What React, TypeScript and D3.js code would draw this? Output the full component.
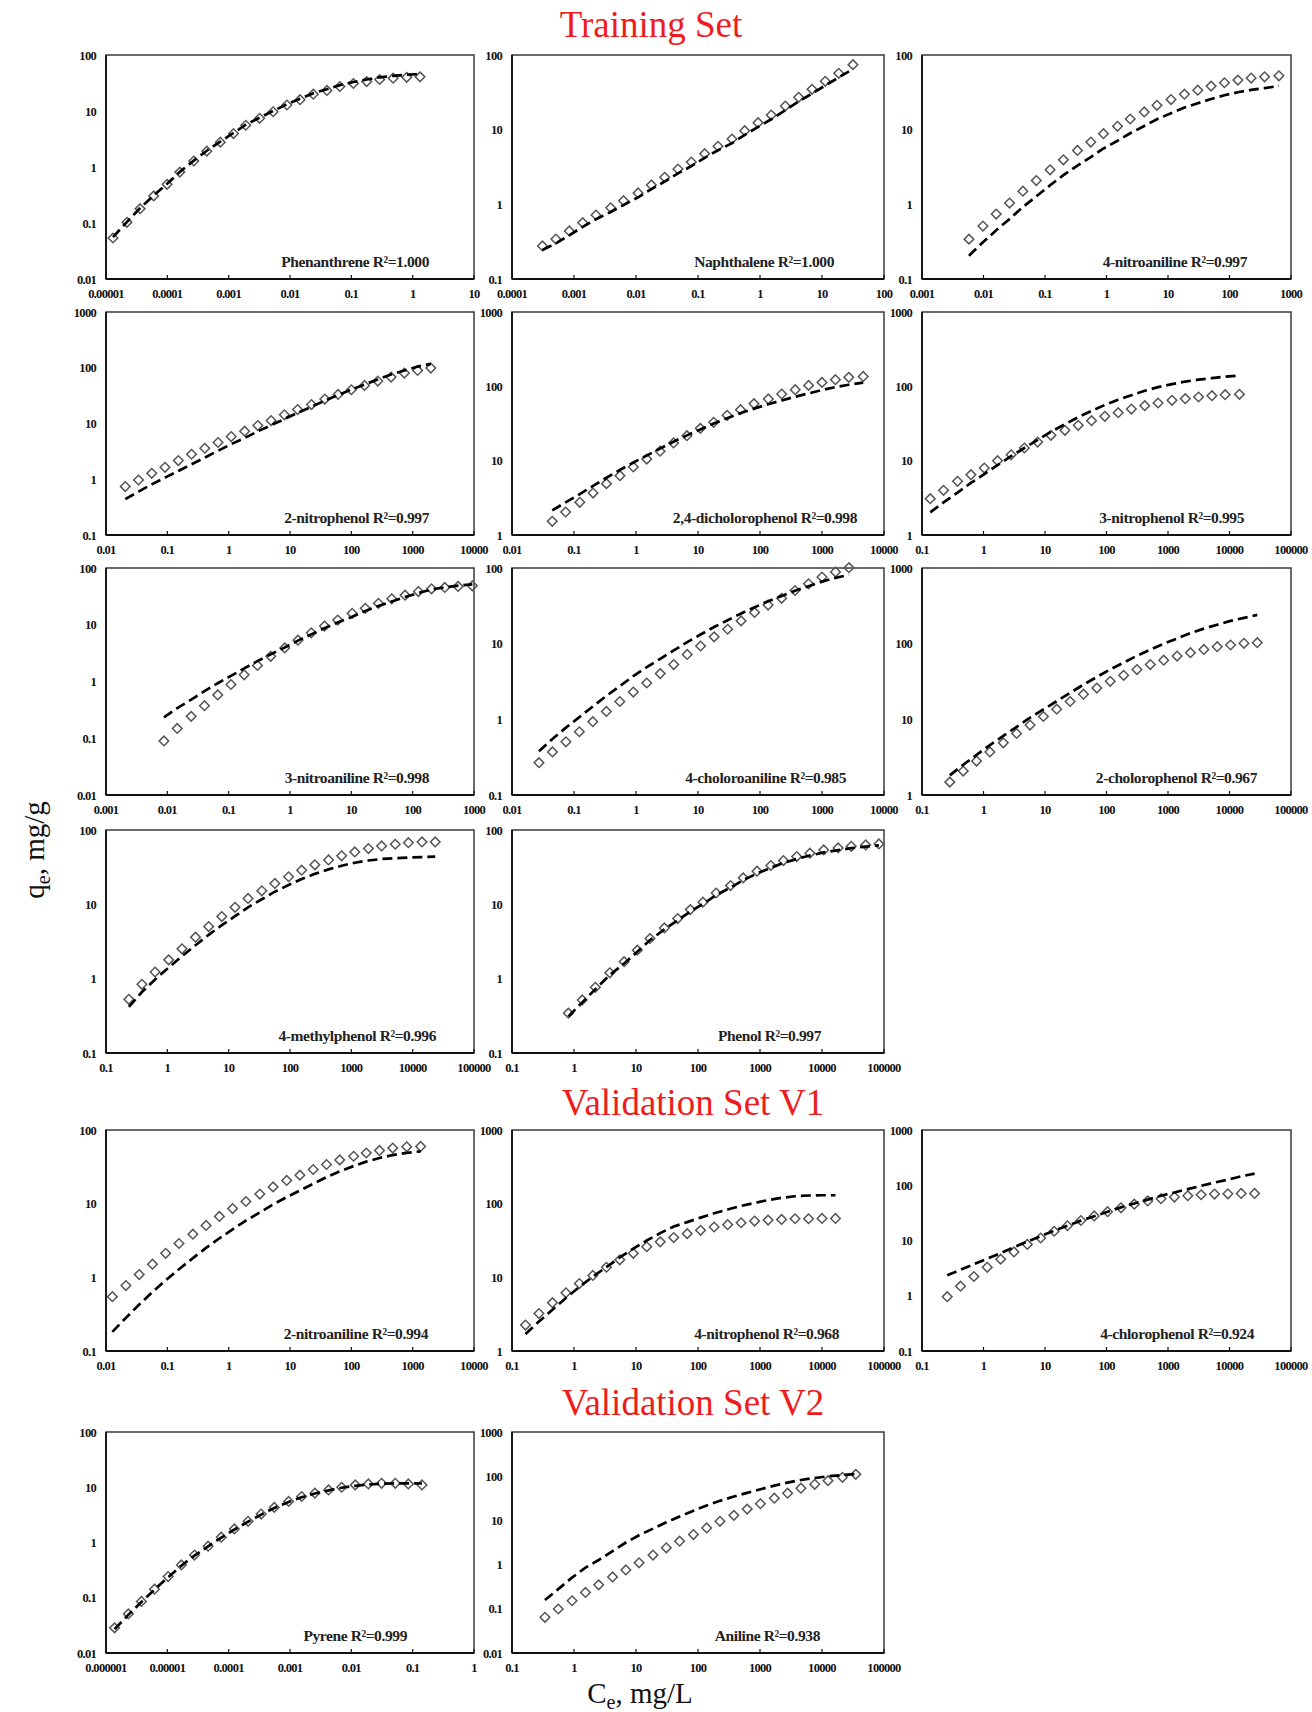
import React from "react"
import * as d3 from "d3"

// Langmuir-type adsorption isotherms: observed qe (diamonds) and model fit (dashed)

const COMPOUNDS = [
  "Phenanthrene", "Naphthalene", "4-nitroaniline",
  "2-nitrophenol", "2,4-dicholorophenol", "3-nitrophenol",
  "3-nitroaniline", "4-choloroaniline", "2-cholorophenol",
  "4-methylphenol", "Phenol",
  "2-nitroaniline", "4-nitrophenol", "4-chlorophenol",
  "Pyrene", "Aniline",
]
const R2 = [
  "1.000", "1.000", "0.997",
  "0.997", "0.998", "0.995",
  "0.998", "0.985", "0.967",
  "0.996", "0.997",
  "0.994", "0.968", "0.924",
  "0.999", "0.938",
]

const SET_TITLES = ["Training Set", "Validation Set V1", "Validation Set V2"]

// axis ranges (mg/L, mg/g)
const X_RANGE = [
  [1e-5, 10], [1e-4, 100], [1e-3, 1000],
  [0.01, 10000], [0.01, 10000], [0.1, 1e5],
  [1e-3, 1000], [0.01, 10000], [0.1, 1e5],
  [0.1, 1e5], [0.1, 1e5],
  [0.01, 10000], [0.1, 1e5], [0.1, 1e5],
  [1e-6, 1], [0.1, 1e5],
]
const Y_RANGE = [
  [0.01, 100], [0.1, 100], [0.1, 100],
  [0.1, 1000], [1, 1000], [1, 1000],
  [0.01, 100], [0.1, 100], [1, 1000],
  [0.1, 100], [0.1, 100],
  [0.1, 100], [1, 1000], [0.1, 1000],
  [0.01, 100], [0.01, 1000],
]

// --- Training set ---
const CE_PHENANTHRENE = [1.3e-5, 2.2e-5, 3.6e-5, 6.0e-5, 9.9e-5, 1.6e-4, 2.7e-4, 4.4e-4, 7.3e-4, 1.2e-3, 1.9e-3, 3.2e-3, 5.3e-3, 8.9e-3, 0.0146, 0.024, 0.040, 0.065, 0.108, 0.178, 0.29, 0.48, 0.80, 1.32]
const QE_PHENANTHRENE = [0.054, 0.103, 0.18, 0.305, 0.49, 0.81, 1.28, 1.92, 2.78, 3.96, 5.57, 7.4, 9.7, 12.8, 15.9, 20, 23.3, 27.4, 31, 33.6, 36.5, 38.5, 40, 40.7]
const FIT_PHENANTHRENE = [0.056, 0.105, 0.185, 0.31, 0.50, 0.82, 1.3, 1.95, 2.85, 4.05, 5.7, 7.6, 10.0, 13.2, 16.5, 20.8, 24.5, 29.0, 33.0, 36.5, 40.0, 42.5, 44.5, 45.5]

const CE_NAPHTHALENE = [3.1e-4, 5.1e-4, 8.4e-4, 1.38e-3, 2.26e-3, 3.9e-3, 6.3e-3, 0.0108, 0.0177, 0.029, 0.0475, 0.078, 0.128, 0.21, 0.353, 0.567, 0.93, 1.52, 2.56, 4.2, 6.9, 11.3, 18.6, 31.6]
const QE_NAPHTHALENE = [0.277, 0.343, 0.44, 0.568, 0.72, 0.90, 1.12, 1.42, 1.82, 2.3, 2.97, 3.69, 4.77, 6.0, 7.5, 9.7, 12.4, 15.7, 20.7, 27.1, 34.7, 44.4, 56.8, 74.3]
const FIT_NAPHTHALENE = [0.245, 0.30, 0.385, 0.50, 0.63, 0.79, 0.98, 1.24, 1.6, 2.02, 2.6, 3.25, 4.2, 5.3, 6.6, 8.5, 10.9, 13.8, 18.2, 23.8, 30.5, 39.0, 50.0, 65.0]

const CE_4NITROANILINE = [5.8e-3, 9.8e-3, 0.0161, 0.0265, 0.0437, 0.0722, 0.121, 0.199, 0.337, 0.556, 0.893, 1.51, 2.43, 4.11, 6.62, 11.2, 18.5, 30.5, 50.2, 82.8, 137, 225, 372, 637]
const QE_4NITROANILINE = [0.342, 0.512, 0.741, 1.04, 1.50, 2.08, 2.9, 3.95, 5.27, 6.82, 8.83, 11.1, 13.9, 17.3, 21.2, 25.3, 29.9, 33.8, 38.3, 42.5, 46.1, 49.1, 51.1, 52.7]
const FIT_4NITROANILINE = [0.205, 0.31, 0.45, 0.635, 0.92, 1.28, 1.80, 2.46, 3.31, 4.3, 5.6, 7.1, 8.95, 11.2, 13.8, 16.6, 19.8, 22.6, 25.8, 28.9, 31.7, 34.1, 36.0, 38.5]

const CE_2NITROPHENOL = [0.0206, 0.0339, 0.0557, 0.0916, 0.151, 0.248, 0.408, 0.671, 1.10, 1.82, 2.99, 4.92, 8.09, 13.3, 22.4, 37, 60.8, 100, 164, 270, 445, 732, 1205, 1980]
const QE_2NITROPHENOL = [0.738, 0.97, 1.28, 1.64, 2.16, 2.81, 3.6, 4.56, 5.84, 7.28, 9.2, 11.3, 14.3, 17.8, 21.9, 27.4, 33.2, 40.3, 48.2, 57.6, 67.9, 80.2, 89.5, 98.6]
const FIT_2NITROPHENOL = [0.44, 0.60, 0.81, 1.07, 1.41, 1.86, 2.45, 3.24, 4.27, 5.5, 7.24, 9.33, 12.0, 15.5, 20.0, 25.7, 32.4, 40.7, 50.1, 61.7, 75.9, 89.1, 105, 117]

const CE_24DCP = [0.0446, 0.0733, 0.124, 0.203, 0.334, 0.551, 0.906, 1.49, 2.45, 4.03, 6.63, 10.9, 17.9, 29.5, 48.5, 80, 136, 224, 370, 608, 1000, 1645, 2705, 4620]
const QE_24DCP = [1.53, 2.04, 2.75, 3.67, 4.91, 6.28, 8.22, 10.5, 13.4, 17.3, 21.7, 27.2, 32.8, 40.7, 48.5, 58.5, 67.6, 78.9, 90.2, 103, 113, 123, 132, 136]
const FIT_24DCP = [2.14, 2.75, 3.55, 4.57, 5.89, 7.5, 9.44, 11.7, 14.6, 18.0, 21.9, 26.3, 31.6, 37.2, 43.7, 50.1, 57.5, 64.6, 72.4, 80.4, 89.1, 97.7, 105, 112]

const CE_3NITROPHENOL = [0.136, 0.224, 0.378, 0.624, 1.03, 1.69, 2.81, 4.62, 7.6, 12.5, 21.1, 34.7, 57.1, 94, 155, 254, 419, 689, 1161, 1910, 3140, 5175, 8510, 14500]
const QE_3NITROPHENOL = [3.08, 3.99, 5.27, 6.48, 7.96, 10, 12.0, 14.8, 17.8, 21.9, 25.6, 29.9, 34.5, 39.5, 44.2, 49.5, 54.9, 59.7, 64.8, 68.2, 71.9, 74.9, 77.3, 78]
const FIT_3NITROPHENOL = [2.02, 2.75, 3.72, 5.01, 6.61, 8.71, 11.5, 14.8, 19.1, 24.5, 30.9, 38.5, 46.8, 56.2, 66.1, 75.9, 87.1, 97.7, 107, 116, 123, 129, 135, 139]

const CE_3NITROANILINE = [8.8e-3, 0.0145, 0.0245, 0.0403, 0.0664, 0.109, 0.179, 0.295, 0.485, 0.82, 1.35, 2.22, 3.65, 6.0, 10.3, 16.9, 27.7, 45.6, 75.2, 124, 203, 334, 550, 940]
const QE_3NITROANILINE = [0.0897, 0.149, 0.243, 0.375, 0.579, 0.885, 1.31, 1.92, 2.78, 3.91, 5.35, 7.21, 9.47, 12.1, 15.9, 19.5, 23.9, 28.6, 33.2, 38.5, 43, 45.4, 47.3, 48.5]
const FIT_3NITROANILINE = [0.234, 0.339, 0.479, 0.676, 0.933, 1.26, 1.70, 2.29, 3.02, 3.98, 5.25, 6.76, 8.71, 11.0, 13.8, 17.4, 21.4, 25.7, 30.9, 36.3, 41.7, 45.7, 49.0, 51.3]

const CE_4CHLOROANILINE = [0.0272, 0.0449, 0.0741, 0.122, 0.201, 0.333, 0.548, 0.905, 1.49, 2.46, 4.06, 6.7, 11.0, 18.2, 30.1, 49.6, 81.8, 135, 223, 367, 606, 1000, 1650, 2720]
const QE_4CHLOROANILINE = [0.267, 0.371, 0.504, 0.685, 0.931, 1.27, 1.72, 2.29, 3.02, 4.02, 5.3, 7.21, 9.31, 12.3, 15.5, 20.0, 25.9, 32.4, 39.8, 50.4, 61.8, 75.9, 88.5, 101]
const FIT_4CHLOROANILINE = [0.38, 0.55, 0.776, 1.07, 1.48, 2.04, 2.75, 3.72, 4.9, 6.31, 8.13, 10.5, 13.2, 16.6, 20.4, 25.1, 30.2, 36.3, 42.7, 50.1, 57.5, 66.1, 74.1, 81.3]

const CE_2CHLOROPHENOL = [0.283, 0.468, 0.771, 1.27, 2.1, 3.46, 5.71, 9.42, 15.5, 25.6, 42.3, 69.7, 115, 190, 313, 516, 851, 1406, 2317, 3828, 6310, 10400, 17180, 28300]
const QE_2CHLOROPHENOL = [1.48, 2.07, 2.81, 3.71, 4.89, 6.5, 8.4, 10.9, 13.6, 17.2, 21.5, 25.9, 31.8, 38.2, 45.5, 53, 60.5, 68.5, 75.9, 84, 91.2, 96, 101, 103]
const FIT_2CHLOROPHENOL = [1.82, 2.51, 3.39, 4.57, 6.03, 7.94, 10.5, 13.5, 17.4, 22.4, 28.8, 36.3, 45.7, 56.2, 69.2, 83.2, 100, 117, 138, 158, 178, 200, 219, 240]

const CE_4METHYLPHENOL = [0.236, 0.385, 0.631, 1.05, 1.73, 2.88, 4.72, 7.73, 12.7, 20.7, 34.7, 56.6, 94.8, 155, 254, 425, 695, 1138, 1900, 3112, 5200, 8510, 14200, 23300]
const QE_4METHYLPHENOL = [0.528, 0.84, 1.23, 1.79, 2.52, 3.61, 5.02, 6.84, 9.12, 12.0, 15.2, 19.1, 23.5, 28.8, 34, 39.6, 44.9, 50.7, 56.2, 61.1, 64.3, 67.6, 69, 69]
const FIT_4METHYLPHENOL = [0.417, 0.661, 0.977, 1.41, 2.0, 2.82, 3.89, 5.25, 6.92, 9.12, 11.7, 14.8, 18.2, 21.9, 25.7, 29.5, 33.1, 36.3, 38.9, 40.7, 41.7, 42.7, 43.2, 43.7]

const CE_PHENOL = [0.811, 1.36, 2.21, 3.78, 6.44, 10.5, 16.8, 28.7, 47, 75.2, 120, 196, 335, 536, 895, 1493, 2390, 3908, 6380, 10660, 18200, 29700, 50700, 82800]
const QE_PHENOL = [0.343, 0.518, 0.766, 1.2, 1.69, 2.42, 3.47, 4.82, 6.43, 8.49, 10.7, 14.2, 17.9, 22.7, 27.9, 33.3, 38.8, 43.9, 48.7, 54, 57.4, 60.4, 63, 64.9]
const FIT_PHENOL = [0.31, 0.48, 0.72, 1.12, 1.6, 2.3, 3.3, 4.6, 6.1, 8.0, 10.1, 13.3, 16.8, 21.2, 26.0, 31.0, 36.0, 40.8, 45.4, 50.0, 53.7, 57.0, 59.8, 62.2]

// --- Validation set V1 ---
const CE_2NITROANILINE = [0.0127, 0.0211, 0.0348, 0.0572, 0.094, 0.155, 0.261, 0.428, 0.706, 1.16, 1.91, 3.22, 5.3, 8.83, 14.5, 23.9, 39.4, 64.7, 109, 175, 288, 474, 800, 1349]
const QE_2NITROANILINE = [0.546, 0.773, 1.09, 1.51, 2.12, 2.88, 3.85, 5.07, 6.7, 8.57, 10.7, 13.5, 16.9, 20.7, 24.4, 29.1, 34, 39.3, 44, 48.7, 52.8, 56.8, 59.2, 59.8]
const FIT_2NITROANILINE = [0.182, 0.282, 0.427, 0.631, 0.912, 1.29, 1.82, 2.51, 3.39, 4.47, 5.89, 7.59, 9.77, 12.3, 15.1, 18.6, 22.9, 27.5, 32.4, 37.2, 41.7, 45.7, 49.0, 51.3]

const CE_4NITROPHENOL = [0.165, 0.272, 0.449, 0.741, 1.22, 2.01, 3.33, 5.48, 9.05, 14.9, 24.6, 40.6, 67, 110, 182, 301, 496, 818, 1350, 2230, 3670, 6070, 10000, 16500]
const QE_4NITROPHENOL = [2.25, 3.23, 4.53, 6.17, 8.22, 10.6, 13.7, 17.3, 21.2, 26, 30.3, 34.7, 39.2, 43.5, 48.2, 51.8, 55.1, 58, 59.8, 61.1, 62.4, 62.4, 63, 63]
const FIT_4NITROPHENOL = [1.70, 2.51, 3.63, 5.25, 7.41, 10.2, 13.8, 18.6, 24.5, 31.6, 39.8, 49.0, 56.2, 64.6, 74.1, 83.2, 93.3, 102, 112, 120, 126, 129, 130, 130]

const CE_4CHLOROPHENOL = [0.257, 0.423, 0.697, 1.15, 1.9, 3.13, 5.16, 8.51, 14.1, 23.2, 38.3, 63.1, 104, 172, 283, 468, 771, 1271, 2099, 3460, 5710, 9420, 15500, 25600]
const QE_4CHLOROPHENOL = [0.96, 1.49, 2.23, 3.27, 4.6, 6.21, 8.49, 11.1, 14.7, 18.5, 23, 27.8, 33.2, 39.1, 45.4, 52, 57.2, 61.2, 64.7, 67.3, 69.2, 70.1, 71.1, 71.1]
const FIT_4CHLOROPHENOL = [2.34, 2.95, 3.72, 4.68, 5.89, 7.59, 9.55, 12.0, 15.1, 18.6, 22.9, 27.5, 33.1, 39.8, 46.8, 55.0, 64.6, 74.1, 85.1, 97.7, 112, 126, 145, 162]

// --- Validation set V2 ---
const CE_PYRENE = [1.38e-6, 2.31e-6, 3.78e-6, 6.18e-6, 1.03e-5, 1.69e-5, 2.77e-5, 4.62e-5, 7.57e-5, 1.24e-4, 2.07e-4, 3.39e-4, 5.55e-4, 9.48e-4, 1.55e-3, 2.54e-3, 4.25e-3, 6.95e-3, 0.0116, 0.019, 0.0311, 0.052, 0.0851, 0.142]
const QE_PYRENE = [0.0285, 0.0509, 0.0859, 0.143, 0.242, 0.392, 0.592, 0.859, 1.25, 1.76, 2.42, 3.27, 4.32, 5.53, 6.8, 7.8, 8.95, 10, 11, 11.5, 11.8, 11.8, 11.5, 11.0]
const FIT_PYRENE = [0.027, 0.049, 0.084, 0.14, 0.235, 0.38, 0.58, 0.85, 1.22, 1.72, 2.38, 3.2, 4.2, 5.4, 6.6, 7.7, 8.8, 9.8, 10.6, 11.2, 11.6, 11.8, 11.8, 11.7]

const CE_ANILINE = [0.34, 0.557, 0.931, 1.53, 2.5, 4.19, 6.86, 11.2, 18.8, 30.8, 50.5, 84.4, 138, 226, 379, 621, 1016, 1702, 2786, 4570, 7640, 12500, 21400, 35100]
const QE_ANILINE = [0.0643, 0.099, 0.152, 0.234, 0.348, 0.527, 0.757, 1.1, 1.64, 2.4, 3.39, 4.79, 6.75, 9.53, 13, 18, 23.8, 31.8, 41.2, 53.5, 65.6, 79.4, 94.4, 110]
const FIT_ANILINE = [0.158, 0.279, 0.509, 0.854, 1.27, 2.02, 3.16, 4.62, 6.52, 9.05, 12.3, 16.5, 21.8, 27.7, 34.7, 42, 50.7, 61.2, 71.6, 82.2, 91.2, 99.4, 106, 112]

const CE = [
  CE_PHENANTHRENE, CE_NAPHTHALENE, CE_4NITROANILINE, CE_2NITROPHENOL, CE_24DCP, CE_3NITROPHENOL,
  CE_3NITROANILINE, CE_4CHLOROANILINE, CE_2CHLOROPHENOL, CE_4METHYLPHENOL, CE_PHENOL,
  CE_2NITROANILINE, CE_4NITROPHENOL, CE_4CHLOROPHENOL, CE_PYRENE, CE_ANILINE,
]
const QE = [
  QE_PHENANTHRENE, QE_NAPHTHALENE, QE_4NITROANILINE, QE_2NITROPHENOL, QE_24DCP, QE_3NITROPHENOL,
  QE_3NITROANILINE, QE_4CHLOROANILINE, QE_2CHLOROPHENOL, QE_4METHYLPHENOL, QE_PHENOL,
  QE_2NITROANILINE, QE_4NITROPHENOL, QE_4CHLOROPHENOL, QE_PYRENE, QE_ANILINE,
]
const FIT = [
  FIT_PHENANTHRENE, FIT_NAPHTHALENE, FIT_4NITROANILINE, FIT_2NITROPHENOL, FIT_24DCP, FIT_3NITROPHENOL,
  FIT_3NITROANILINE, FIT_4CHLOROANILINE, FIT_2CHLOROPHENOL, FIT_4METHYLPHENOL, FIT_PHENOL,
  FIT_2NITROANILINE, FIT_4NITROPHENOL, FIT_4CHLOROPHENOL, FIT_PYRENE, FIT_ANILINE,
]

// layout
const WIDTH = 1312
const HEIGHT = 1712
const COLS = [[106, 474], [512, 884], [922, 1291]]
const ROWS = [[55, 279], [312, 535], [568, 795], [830, 1053], [1130, 1351], [1432, 1653]]
const GRID = [
  [0, 0], [0, 1], [0, 2],
  [1, 0], [1, 1], [1, 2],
  [2, 0], [2, 1], [2, 2],
  [3, 0], [3, 1],
  [4, 0], [4, 1], [4, 2],
  [5, 0], [5, 1],
]
// distance from the right frame edge to the end of each label
const LABEL_INSET = [45, 50, 44, 45, 27, 47, 45, 38, 34, 38, 63, 46, 45, 37, 67, 64]
const TITLE_POS = [[651, 37], [693, 1115], [693, 1415]]

const SERIF = "'Liberation Serif', 'Times New Roman', serif"

const decades = (domain: number[]) => {
  const out: number[] = []
  for (let e = Math.round(Math.log10(domain[0])); e <= Math.round(Math.log10(domain[1])); e++) {
    out.push(Number(`1e${e}`))
  }
  return out
}

const fmt = (v: number) => (v >= 1 ? String(Math.round(v)) : v.toFixed(Math.round(-Math.log10(v))))

const diamond = d3.symbol(d3.symbolSquare, 46)() as string

function Panel({ i }: { i: number }) {
  const [r, c] = GRID[i]
  const [x0, x1] = COLS[c]
  const [y0, y1] = ROWS[r]

  const x = d3.scaleLog().domain(X_RANGE[i]).range([x0, x1])
  const y = d3.scaleLog().domain(Y_RANGE[i]).range([y1, y0])

  const ce = CE[i]
  const line = d3
    .line<number>()
    .x((_, k) => x(ce[k]))
    .y(d => y(d))

  return (
    <g>
      <rect x={x0} y={y0} width={x1 - x0} height={y1 - y0} fill="white" stroke="#3a3a3a" strokeWidth={1.5} />
      <line x1={x0} x2={x1} y1={y1} y2={y1} stroke="#111" strokeWidth={2} />
      <line x1={x0} x2={x0} y1={y0} y2={y1} stroke="#111" strokeWidth={1.8} />

      {decades(X_RANGE[i]).map(v => (
        <g key={`x${v}`}>
          <line x1={x(v)} x2={x(v)} y1={y1} y2={y1 - 4} stroke="#111" strokeWidth={1.2} />
          <text
            x={x(v)}
            y={y1 + 19}
            textAnchor="middle"
            fontFamily={SERIF}
            fontWeight="bold"
            fontSize={12.5}
            letterSpacing={-0.7}
            fill="#111"
          >
            {fmt(v)}
          </text>
        </g>
      ))}

      {decades(Y_RANGE[i]).map(v => (
        <text
          key={`y${v}`}
          x={x0 - 10}
          y={y(v) + 4.5}
          textAnchor="end"
          fontFamily={SERIF}
          fontWeight="bold"
          fontSize={12.5}
          letterSpacing={-0.7}
          fill="#111"
        >
          {fmt(v)}
        </text>
      ))}

      {QE[i].map((q, k) => (
        <path
          key={k}
          d={diamond}
          transform={`translate(${x(ce[k])},${y(q)}) rotate(45)`}
          fill="none"
          stroke="#555"
          strokeWidth={1.5}
        />
      ))}

      <path d={line(FIT[i]) as string} fill="none" stroke="#000" strokeWidth={2.7} strokeDasharray="10,5" />

      <text
        x={x1 - LABEL_INSET[i]}
        y={y1 - 12}
        textAnchor="end"
        fontFamily={SERIF}
        fontWeight="bold"
        fontSize={15.5}
        letterSpacing={-0.4}
        fill="#222"
      >
        {`${COMPOUNDS[i]} R²=${R2[i]}`}
      </text>
    </g>
  )
}

export default function App() {
  return (
    <svg
      width={WIDTH}
      height={HEIGHT}
      style={{ position: "absolute", left: 0, top: 0, background: "white" }}
    >
      <rect width={WIDTH} height={HEIGHT} fill="white" />

      {SET_TITLES.map((t, k) => (
        <text
          key={t}
          x={TITLE_POS[k][0]}
          y={TITLE_POS[k][1]}
          textAnchor="middle"
          fontFamily={SERIF}
          fontSize={37}
          fill="#ee1c1c"
        >
          {t}
        </text>
      ))}

      {COMPOUNDS.map((_, i) => (
        <Panel key={i} i={i} />
      ))}

      <text
        transform="translate(44,850) rotate(-90)"
        textAnchor="middle"
        fontFamily={SERIF}
        fontSize={29}
        fill="#111"
      >
        q<tspan fontSize={20} dy={6}>e</tspan>
        <tspan dy={-6}>, mg/g</tspan>
      </text>

      <text x={640} y={1703} textAnchor="middle" fontFamily={SERIF} fontSize={29} fill="#111">
        C<tspan fontSize={20} dy={6}>e</tspan>
        <tspan dy={-6}>, mg/L</tspan>
      </text>
    </svg>
  )
}
